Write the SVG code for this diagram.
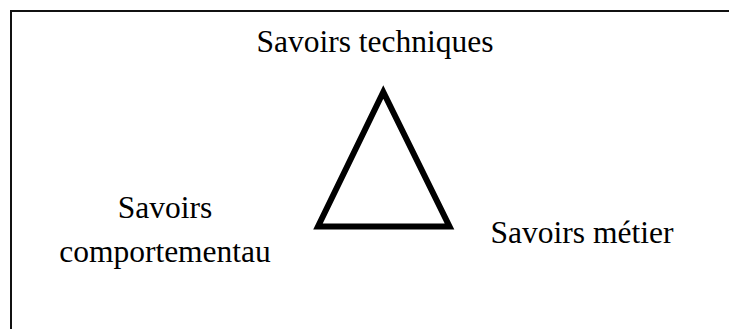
<svg xmlns="http://www.w3.org/2000/svg" width="729" height="329" viewBox="0 0 729 329">
<style>
.lbl{font-family:"Liberation Serif","Times New Roman",serif;font-size:31.5px;fill:#000;text-anchor:middle}
</style>
<rect width="729" height="329" fill="#fff"/>
<g id="frame">
<path d="M11,335 V11 H735" fill="none" stroke="#111" stroke-width="2"/>
</g>
<g id="connectors">
<polygon points="383.3,92 318,226.5 449.5,226.5" fill="none" stroke="#000" stroke-width="6" stroke-linejoin="miter"/>
</g>
<g id="node-techniques">
<text class="lbl" x="375" y="52.3">Savoirs techniques</text>
</g>
<g id="node-comportementau">
<text class="lbl" x="165" y="218.3">Savoirs</text>
<text class="lbl" x="165" y="261.7">comportementau</text>
</g>
<g id="node-metier">
<text class="lbl" x="582" y="243.3">Savoirs métier</text>
</g>
</svg>
